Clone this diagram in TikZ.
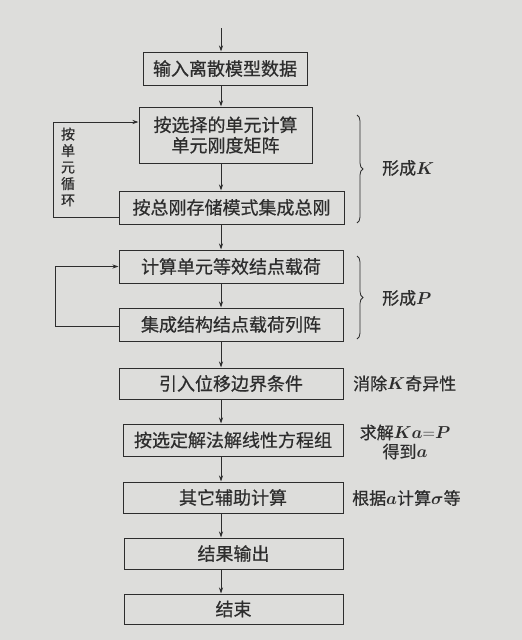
\documentclass[tikz,border=0pt]{standalone}
\usepackage{fontspec}
\usepackage{bm}
\usetikzlibrary{arrows.meta,decorations.pathreplacing}
\newfontfamily\cjk[FakeBold=0.6]{Noto Sans CJK SC}
\definecolor{paper}{RGB}{221,221,219}
\definecolor{ink}{RGB}{45,45,45}
\tikzset{
  box/.style={draw=ink, line width=1pt, text=ink, inner sep=0pt, align=center,
    font=\cjk\fontsize{18}{20.5}\selectfont},
  lab/.style={text=ink, inner sep=0pt, align=center, font=\cjk\fontsize{17}{19}\selectfont},
  flow/.style={draw=ink, line width=1pt, -{Stealth[length=6pt,width=4pt]}},
  brc/.style={draw=ink, line width=0.8pt, decorate, decoration={brace, amplitude=6pt}}
}
\begin{document}
\begin{tikzpicture}[x=1pt,y=-1pt]
\fill[paper] (0,0) rectangle (522,640);
\useasboundingbox (0,0) rectangle (522,640);
\coordinate (ax) at (221,0);
\coordinate (top) at (221,28);
\node[box, minimum width=164pt, minimum height=33pt] (b1) at (225,68.5) {输入离散模型数据};
\node[box, minimum width=173pt, minimum height=56pt] (b2) at (225.5,135) {按选择的单元计算\\单元刚度矩阵};
\node[box, minimum width=225pt, minimum height=33pt] (b3) at (231.5,207.5) {按总刚存储模式集成总刚};
\node[box, minimum width=224pt, minimum height=33pt] (b4) at (231,266.5) {计算单元等效结点载荷};
\node[box, minimum width=224pt, minimum height=33pt] (b5) at (231,324.5) {集成结构结点载荷列阵};
\node[box, minimum width=224pt, minimum height=31pt] (b6) at (231,383.5) {引入位移边界条件};
\node[box, minimum width=220pt, minimum height=32pt] (b7) at (233,440) {按选定解法解线性方程组};
\node[box, minimum width=220pt, minimum height=31pt] (b8) at (233,497.5) {其它辅助计算};
\node[box, minimum width=219pt, minimum height=31pt] (b9) at (233.5,553.5) {结果输出};
\node[box, minimum width=219pt, minimum height=30pt] (b10) at (233.5,609) {结束};

% main flow
\draw[flow] (top) -- (b1.north -| ax);
\draw[flow] (b1.south -| ax) -- (b2.north -| ax);
\draw[flow] (b2.south -| ax) -- (b3.north -| ax);
\draw[flow] (b3.south -| ax) -- (b4.north -| ax);
\draw[flow] (b4.south -| ax) -- (b5.north -| ax);
\draw[flow] (b5.south -| ax) -- (b6.north -| ax);
\draw[flow] (b6.south -| ax) -- (b7.north -| ax);
\draw[flow] (b7.south -| ax) -- (b8.north -| ax);
\draw[flow] (b8.south -| ax) -- (b9.north -| ax);
\draw[flow] (b9.south -| ax) -- (b10.north -| ax);

% loop 1
\coordinate (l1a) at (53,217);
\coordinate (l1b) at (53,122);
\draw[flow] (l1a -| b3.west) -- (l1a) -- (l1b) -- (l1b -| b2.west);
\node[lab, font=\cjk\fontsize{14}{16.5}\selectfont] (loopl) at (68,167) {按\\单\\元\\循\\环};

% loop 2
\coordinate (l2a) at (55,326);
\coordinate (l2b) at (55,266.5);
\draw[flow] (l2a -| b5.west) -- (l2a) -- (l2b) -- (l2b -| b4.west);

% braces
\coordinate (k1) at (357,115);
\coordinate (k2) at (357,223);
\draw[brc] (k1) -- (k2);
\node[lab, anchor=west] (formK) at (382,168) {形成$\bm{K}$};
\coordinate (p1) at (357,256);
\coordinate (p2) at (357,339);
\draw[brc] (p1) -- (p2);
\node[lab, anchor=west] (formP) at (382,298) {形成$\bm{P}$};

% side notes
\node[lab, anchor=west] (n6) at (353,383.5) {消除$\bm{K}$奇异性};
\node[lab] (n7) at (405,442) {求解$\bm{Ka}{=}\bm{P}$\\得到$\bm{a}$};
\node[lab, anchor=west] (n8) at (352,498) {根据$\bm{a}$计算$\bm{\sigma}$等};
\end{tikzpicture}
\end{document}
